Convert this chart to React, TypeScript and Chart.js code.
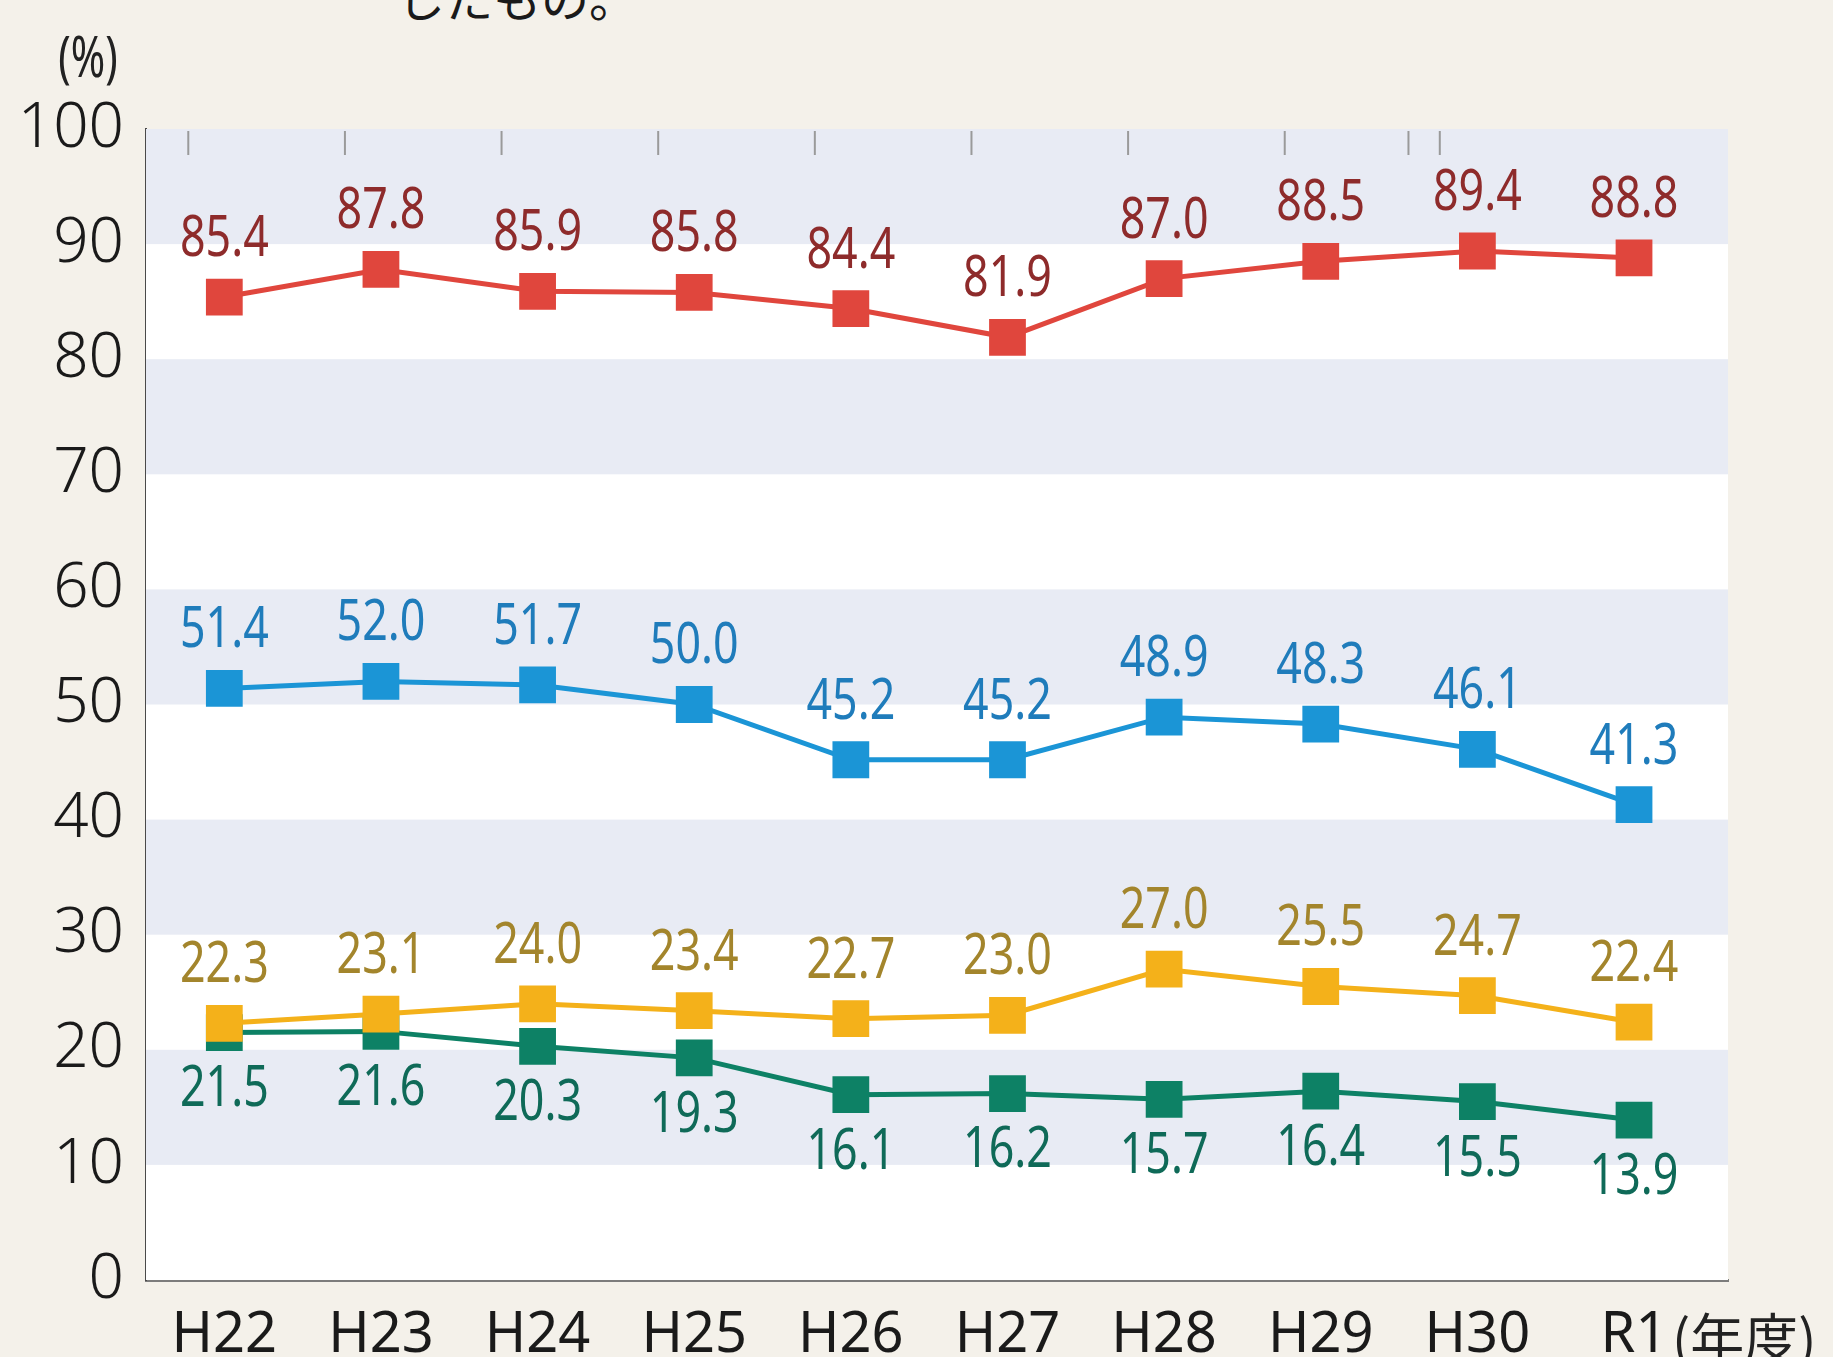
import React, { useEffect, useRef } from "react";
import { Chart, registerables } from "chart.js";

Chart.register(...registerables);

const categories = ["H22", "H23", "H24", "H25", "H26", "H27", "H28", "H29", "H30", "R1"];
const redValues = [85.4, 87.8, 85.9, 85.8, 84.4, 81.9, 87.0, 88.5, 89.4, 88.8];
const blueValues = [51.4, 52.0, 51.7, 50.0, 45.2, 45.2, 48.9, 48.3, 46.1, 41.3];
const goldValues = [22.3, 23.1, 24.0, 23.4, 22.7, 23.0, 27.0, 25.5, 24.7, 22.4];
const greenValues = [21.5, 21.6, 20.3, 19.3, 16.1, 16.2, 15.7, 16.4, 15.5, 13.9];
const yTicks = [0, 10, 20, 30, 40, 50, 60, 70, 80, 90, 100];
const topTickValues = [-0.23, 0.77, 1.77, 2.77, 3.77, 4.77, 5.77, 6.77, 7.56, 7.76];
const yUnit = "(%)";
const xUnit = "(年度)";
const headText = "したもの。";

const SANS = "'Noto Sans', sans-serif";
const CONDENSE = 0.8;

const seriesStyle = [
  { values: redValues, line: "#e0463d", label: "#8e2b2b", below: false },
  { values: blueValues, line: "#1b95d6", label: "#1f7cbb", below: false },
  { values: goldValues, line: "#f4b11a", label: "#a3852c", below: false },
  { values: greenValues, line: "#0d8165", label: "#0f6a58", below: true },
];

function condensedText(ctx: CanvasRenderingContext2D, text: string, x: number, y: number, k: number) {
  ctx.save();
  ctx.translate(x, y);
  ctx.scale(k, 1);
  ctx.fillText(text, 0, 0);
  ctx.restore();
}

const decorPlugin = {
  id: "decor",
  beforeDatasetsDraw(chart: any) {
    const { ctx, chartArea, scales } = chart;
    const y = scales.y;
    const x = scales.x;
    ctx.save();
    ctx.fillStyle = "#ffffff";
    ctx.fillRect(chartArea.left, chartArea.top, chartArea.right - chartArea.left, chartArea.bottom - chartArea.top);
    ctx.fillStyle = "#e8ebf4";
    for (let v = 10; v < 100; v += 20) {
      const top = y.getPixelForValue(v + 10);
      const bot = y.getPixelForValue(v);
      ctx.fillRect(chartArea.left, top, chartArea.right - chartArea.left, bot - top);
    }
    ctx.strokeStyle = "#9a9a9a";
    ctx.lineWidth = 2;
    topTickValues.forEach((t) => {
      const px = x.getPixelForValue(t);
      ctx.beginPath();
      ctx.moveTo(px, chartArea.top + 2);
      ctx.lineTo(px, chartArea.top + 26);
      ctx.stroke();
    });
    ctx.restore();
  },
  afterDatasetsDraw(chart: any) {
    const { ctx, chartArea, scales } = chart;
    ctx.save();
    ctx.font = `56px ${SANS}`;
    ctx.textAlign = "center";
    ctx.textBaseline = "middle";
    seriesStyle.forEach((s) => {
      ctx.fillStyle = s.label;
      s.values.forEach((v, i) => {
        const px = scales.x.getPixelForValue(i);
        const py = scales.y.getPixelForValue(v);
        condensedText(ctx, v.toFixed(1), px, s.below ? py + 58 : py - 57, CONDENSE);
      });
    });
    // units
    ctx.fillStyle = "#222";
    ctx.font = `56px ${SANS}`;
    ctx.textAlign = "center";
    condensedText(ctx, yUnit, chartArea.left - 58, chartArea.top - 68, 0.74);
    const lastX = scales.x.getPixelForValue(categories.length - 1);
    ctx.font = `54px 'Noto Sans CJK JP', sans-serif`;
    ctx.textAlign = "left";
    ctx.fillText(xUnit, lastX + 38, chartArea.bottom + 58);
    ctx.restore();
  },
};

export default function App() {
  const ref = useRef<HTMLCanvasElement>(null);
  useEffect(() => {
    if (!ref.current) return;
    const chart = new Chart(ref.current, {
      type: "line",
      data: {
        datasets: seriesStyle.map((s) => ({
          data: s.values.map((v, i) => ({ x: i, y: v })),
          borderColor: s.line,
          backgroundColor: s.line,
          borderWidth: 5,
          pointStyle: "rect",
          pointRadius: 26,
          pointBorderWidth: 0,
          pointBackgroundColor: s.line,
          tension: 0,
          fill: false,
        })),
      },
      plugins: [decorPlugin],
      options: {
        animation: false,
        responsive: true,
        maintainAspectRatio: false,
        layout: { padding: { left: 0, top: 129, right: 105, bottom: 0 } },
        plugins: { legend: { display: false }, tooltip: { enabled: false }, title: { display: false } },
        scales: {
          x: {
            type: "linear",
            min: -0.5,
            max: 9.6,
            afterBuildTicks: (scale: any) => {
              scale.ticks = categories.map((_, i) => ({ value: i }));
            },
            afterFit: (scale: any) => {
              scale.height = 77;
            },
            grid: { display: false, drawTicks: false },
            border: { display: true, color: "#7c7c7c", width: 3 },
            ticks: {
              autoSkip: false,
              maxRotation: 0,
              padding: 22,
              color: "#1a1a1a",
              font: { family: SANS, size: 56 },
              callback: (v: any) => categories[v] ?? "",
            },
          },
          y: {
            min: 0,
            max: 100,
            afterBuildTicks: (scale: any) => {
              scale.ticks = yTicks.map((v) => ({ value: v }));
            },
            afterFit: (scale: any) => {
              scale.width = 146;
            },
            grid: { display: false, drawTicks: false },
            border: { display: true, color: "#4a4a4a", width: 2 },
            ticks: {
              padding: 22,
              color: "#1a1a1a",
              font: { family: SANS, size: 62, weight: "300" as any },
            },
          },
        },
      },
    });
    return () => chart.destroy();
  }, []);
  return (
    <div
      style={{
        position: "absolute",
        left: 0,
        top: 0,
        width: 1833,
        height: 1357,
        background: "#f4f1ea",
        overflow: "hidden",
      }}
    >
      <div
        style={{
          position: "absolute",
          left: 397,
          top: -28,
          fontFamily: "'Noto Sans CJK JP', sans-serif",
          fontSize: 48,
          lineHeight: "48px",
          color: "#1a1a1a",
          whiteSpace: "nowrap",
        }}
      >
        {headText}
      </div>
      <canvas ref={ref} style={{ position: "absolute", left: 0, top: 0, width: 1833, height: 1357 }} />
    </div>
  );
}
